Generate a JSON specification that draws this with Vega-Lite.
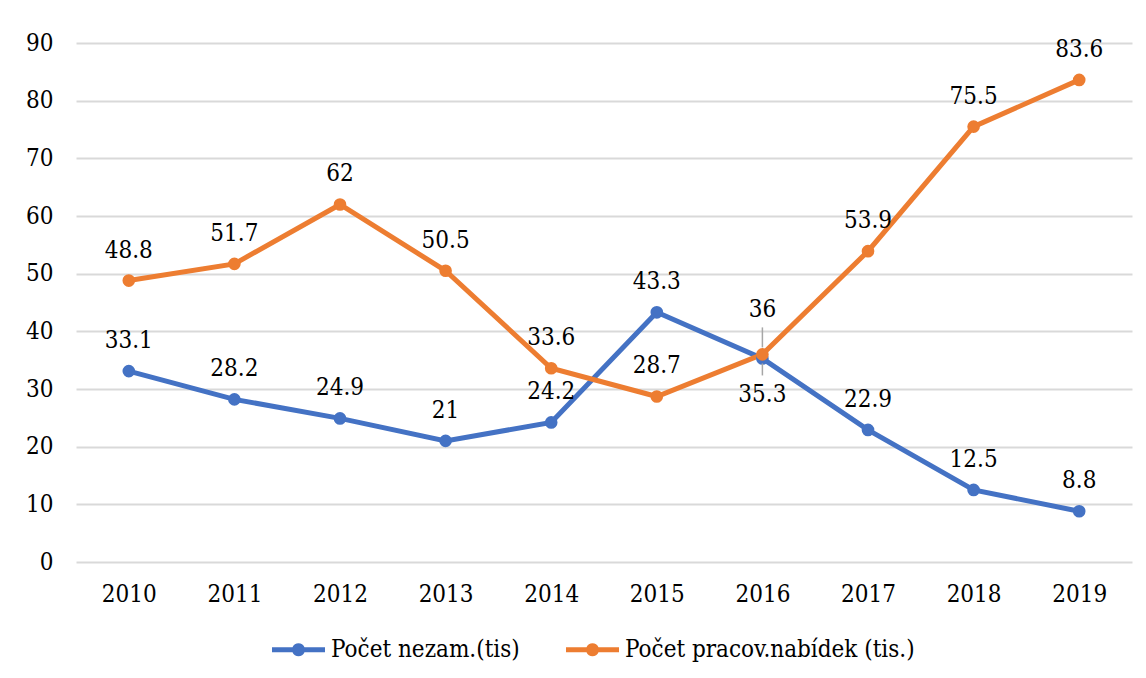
{
  "$schema": "https://vega.github.io/schema/vega-lite/v6.json",
  "autosize": "none",
  "width": 1056,
  "height": 519,
  "padding": {"left": 76, "top": 43, "right": 14, "bottom": 116},
  "background": "white",
  "config": {
    "font": "DejaVu Serif Condensed",
    "view": {"stroke": null},
    "axis": {"labelFont": "DejaVu Serif Condensed", "labelFontSize": 24, "labelColor": "#000000", "ticks": false, "domain": false, "gridColor": "#D9D9D9", "gridWidth": 2},
    "legend": {"labelFont": "DejaVu Serif Condensed", "labelFontSize": 24, "labelColor": "#000000", "labelLimit": 0},
    "text": {"font": "DejaVu Serif Condensed"}
  },
  "data": {
    "values": [
      {"year": "2010", "series": "Počet nezam.(tis)", "value": 33.1},
      {"year": "2011", "series": "Počet nezam.(tis)", "value": 28.2},
      {"year": "2012", "series": "Počet nezam.(tis)", "value": 24.9},
      {"year": "2013", "series": "Počet nezam.(tis)", "value": 21},
      {"year": "2014", "series": "Počet nezam.(tis)", "value": 24.2},
      {"year": "2015", "series": "Počet nezam.(tis)", "value": 43.3},
      {"year": "2016", "series": "Počet nezam.(tis)", "value": 35.3},
      {"year": "2017", "series": "Počet nezam.(tis)", "value": 22.9},
      {"year": "2018", "series": "Počet nezam.(tis)", "value": 12.5},
      {"year": "2019", "series": "Počet nezam.(tis)", "value": 8.8},
      {"year": "2010", "series": "Počet pracov.nabídek (tis.)", "value": 48.8},
      {"year": "2011", "series": "Počet pracov.nabídek (tis.)", "value": 51.7},
      {"year": "2012", "series": "Počet pracov.nabídek (tis.)", "value": 62},
      {"year": "2013", "series": "Počet pracov.nabídek (tis.)", "value": 50.5},
      {"year": "2014", "series": "Počet pracov.nabídek (tis.)", "value": 33.6},
      {"year": "2015", "series": "Počet pracov.nabídek (tis.)", "value": 28.7},
      {"year": "2016", "series": "Počet pracov.nabídek (tis.)", "value": 36},
      {"year": "2017", "series": "Počet pracov.nabídek (tis.)", "value": 53.9},
      {"year": "2018", "series": "Počet pracov.nabídek (tis.)", "value": 75.5},
      {"year": "2019", "series": "Počet pracov.nabídek (tis.)", "value": 83.6}
    ]
  },
  "encoding": {
    "x": {"field": "year", "type": "ordinal", "title": null, "scale": {"type": "point", "padding": 0.5},
      "axis": {"labelAngle": 0, "labelPadding": 20, "grid": false}},
    "y": {"field": "value", "type": "quantitative", "title": null,
      "scale": {"domain": [0, 90], "nice": false},
      "axis": {"values": [0, 10, 20, 30, 40, 50, 60, 70, 80, 90], "labelPadding": 23, "grid": true}}
  },
  "layer": [
    {
      "mark": {"type": "line", "strokeWidth": 5},
      "encoding": {
        "color": {"field": "series", "type": "nominal",
          "scale": {"domain": ["Počet nezam.(tis)", "Počet pracov.nabídek (tis.)"], "range": ["#4472C4", "#ED7D31"]},
          "legend": {"title": null, "orient": "none", "legendX": 196, "legendY": 580, "direction": "horizontal",
            "symbolType": "M-1,-0.094L-0.226,-0.094A0.245,0.245,0,0,1,0.226,-0.094L1,-0.094L1,0.094L0.226,0.094A0.245,0.245,0,0,1,-0.226,0.094L-1,0.094Z",
            "symbolSize": 2809, "symbolStrokeWidth": 0, "labelOffset": 6, "columnPadding": 46}}
      }
    },
    {
      "mark": {"type": "point", "filled": true, "size": 160, "opacity": 1},
      "encoding": {"color": {"field": "series", "type": "nominal"}}
    },
    {
      "transform": [{"filter": "datum.year != '2016'"}],
      "mark": {"type": "text", "fontSize": 24, "color": "#000000", "baseline": "alphabetic", "dy": -23},
      "encoding": {"text": {"field": "value", "type": "quantitative"}}
    },
    {
      "transform": [{"filter": "datum.year == '2016' && datum.series == 'Počet pracov.nabídek (tis.)'"}],
      "mark": {"type": "text", "fontSize": 24, "color": "#000000", "baseline": "alphabetic", "dy": -37},
      "encoding": {"text": {"field": "value", "type": "quantitative"}}
    },
    {
      "transform": [{"filter": "datum.year == '2016' && datum.series == 'Počet nezam.(tis)'"}],
      "mark": {"type": "text", "fontSize": 24, "color": "#000000", "baseline": "alphabetic", "dy": 44},
      "encoding": {"text": {"field": "value", "type": "quantitative"}}
    },
    {
      "transform": [{"filter": "datum.year == '2016' && datum.series == 'Počet pracov.nabídek (tis.)'"}],
      "mark": {"type": "rule", "color": "#A6A6A6", "strokeWidth": 1.5, "yOffset": -27, "y2Offset": -7},
      "encoding": {"y2": {"field": "value"}}
    },
    {
      "transform": [{"filter": "datum.year == '2016' && datum.series == 'Počet nezam.(tis)'"}],
      "mark": {"type": "rule", "color": "#A6A6A6", "strokeWidth": 1.5, "yOffset": 5, "y2Offset": 17},
      "encoding": {"y2": {"field": "value"}}
    }
  ]
}
